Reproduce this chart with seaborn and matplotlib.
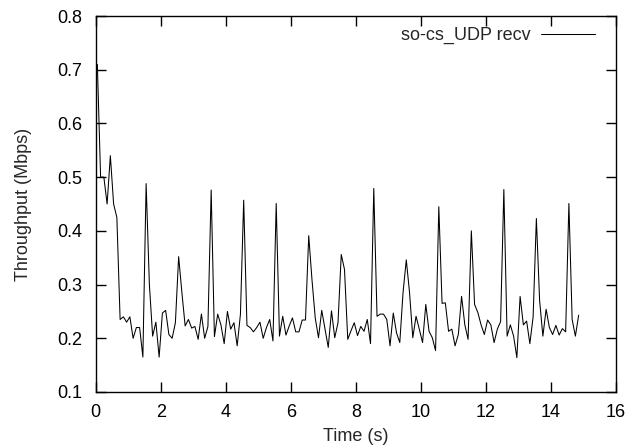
import numpy as np
import pandas as pd
import seaborn as sns
from matplotlib import pyplot as plt

# throughput samples, one every 0.1 s
sample_step = 0.1
sample_start = 0.05
throughput = [
    0.71, 0.50, 0.50, 0.45, 0.54, 0.45, 0.425, 0.235, 0.24, 0.23,
    0.24, 0.20, 0.22, 0.22, 0.165, 0.488, 0.30, 0.204, 0.23, 0.165,
    0.247, 0.252, 0.207, 0.200, 0.229, 0.352, 0.285, 0.223, 0.235, 0.219,
    0.222, 0.198, 0.245, 0.200, 0.222, 0.476, 0.203, 0.245, 0.225, 0.19,
    0.25, 0.217, 0.229, 0.186, 0.245, 0.457, 0.224, 0.220, 0.212, 0.220,
    0.230, 0.200, 0.220, 0.235, 0.195, 0.451, 0.204, 0.241, 0.206, 0.223,
    0.238, 0.212, 0.212, 0.234, 0.234, 0.391, 0.309, 0.238, 0.201, 0.252,
    0.217, 0.183, 0.251, 0.201, 0.229, 0.356, 0.328, 0.198, 0.214, 0.229,
    0.205, 0.222, 0.213, 0.235, 0.19, 0.479, 0.241, 0.245, 0.245, 0.235,
    0.186, 0.247, 0.21, 0.192, 0.285, 0.346, 0.285, 0.201, 0.241, 0.217,
    0.192, 0.263, 0.213, 0.201, 0.177, 0.445, 0.265, 0.266, 0.213, 0.217,
    0.186, 0.207, 0.278, 0.225, 0.198, 0.40, 0.263, 0.248, 0.225, 0.207,
    0.234, 0.225, 0.192, 0.217, 0.231, 0.477, 0.204, 0.225, 0.204, 0.164,
    0.278, 0.225, 0.232, 0.19, 0.24, 0.423, 0.27, 0.204, 0.254, 0.22,
    0.207, 0.224, 0.206, 0.218, 0.212, 0.451, 0.235, 0.204, 0.243,
]
series_label = "so-cs_UDP recv"
x_ticks = [0, 2, 4, 6, 8, 10, 12, 14, 16]
y_ticks = [0.1, 0.2, 0.3, 0.4, 0.5, 0.6, 0.7, 0.8]

time = sample_start + sample_step * np.arange(len(throughput))
df = pd.DataFrame({"time": time, "throughput": throughput})

sns.set_theme(style="ticks")
plt.rcParams['font.family'] = ['Liberation Sans', 'DejaVu Sans']
fs = 13

fig = plt.figure(figsize=(6.31, 4.46), dpi=100)
ax = fig.add_axes([0.1517, 0.1211, 0.8246, 0.8430])

sns.lineplot(data=df, x="time", y="throughput", color="black",
             linewidth=0.75, label=series_label, ax=ax)

ax.set_xlim(0, 16)
ax.set_ylim(0.1, 0.8)
ax.set_xticks(x_ticks)
ax.set_yticks(y_ticks)
ax.set_xticklabels([str(t) for t in x_ticks])
ax.set_yticklabels([f"{t:.1f}" for t in y_ticks])
ax.tick_params(direction="in", length=7, width=1, top=True, right=True,
               labelsize=fs, colors="black")
ax.tick_params(axis="x", pad=8.5)
ax.tick_params(axis="y", pad=9.5)
for s in ax.spines.values():
    s.set_color("black")
    s.set_linewidth(1)

ax.set_xlabel("Time (s)", fontsize=fs, labelpad=5.5)
ax.set_ylabel("Throughput (Mbps)", fontsize=fs, labelpad=18)

leg = ax.legend(loc="upper right", bbox_to_anchor=(0.9597, 0.97),
                frameon=False, markerfirst=False, fontsize=fs,
                handlelength=3.0, handletextpad=0.55,
                borderpad=0, borderaxespad=0)

fig.savefig("out.png", dpi=100)
